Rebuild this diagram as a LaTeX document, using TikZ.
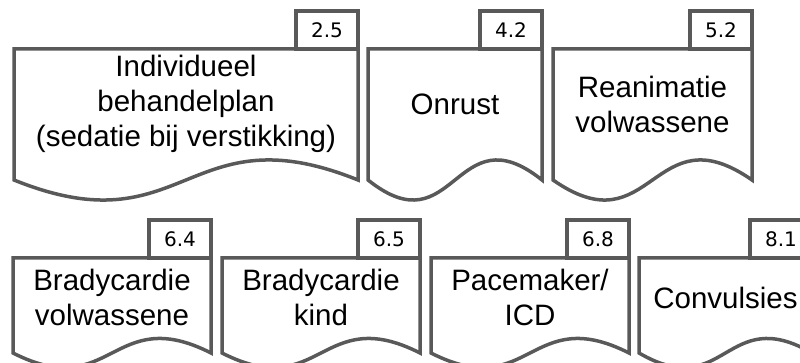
\documentclass[tikz,border=0pt]{standalone}
\usepackage{fontspec}
\setmainfont{Liberation Sans}
\newfontfamily\tabfont{DejaVu Sans}
\usepackage{xcolor}
\usepackage{tikz}
\usetikzlibrary{calc}

\definecolor{edgegray}{HTML}{595959}

% document shape with a number tab: name, x, top, width, height, number, text
\newcommand{\docbox}[7]{%
  \node[docarea, minimum width=#4, minimum height=#5, anchor=north west] (#1) at (#2,#3) {};
  \node[doctext] (#1-txt) at ($(#1.north)!.42!(#1.south)$) {#7};
  \draw[outline] (#1.south west) -- (#1.north west) -- (#1.north east) -- (#1.south east)
    .. controls ($(#1.south)+(0,.53*#5)$) and ($(#1.south)-(0,.53*#5)$) .. (#1.south west) -- cycle;
  \node[tab, anchor=south east] (#1-nr) at (#1.north east) {#6};
}

\begin{document}
\begin{tikzpicture}[
  x=1pt, y=1pt,
  docarea/.style={rectangle, inner sep=0pt, outer sep=0pt},
  doctext/.style={align=center, inner sep=0pt, font=\fontsize{29.5}{35}\selectfont},
  outline/.style={draw=edgegray, line width=3.5pt, line join=miter},
  tab/.style={outline, fill=white, minimum width=62, minimum height=38, inner sep=0pt, outer sep=0pt,
    font=\tabfont\fontsize{20}{24}\selectfont}
]
\useasboundingbox (0,0) rectangle (800,363);
\clip (0,0) rectangle (800,363);

% top row
\docbox{ind}{14}{314}{344}{131}{2.5}{Individueel\\behandelplan\\(sedatie bij verstikking)}
\docbox{onr}{368}{314}{174}{131}{4.2}{Onrust}
\docbox{rea}{553}{314}{199}{131}{5.2}{Reanimatie\\volwassene}

% bottom row
\docbox{bvw}{13}{105}{198}{95}{6.4}{Bradycardie\\volwassene}
\docbox{bkd}{222}{105}{198}{95}{6.5}{Bradycardie\\kind}
\docbox{pmk}{431}{105}{198}{95}{6.8}{Pacemaker/\\ICD}
\docbox{cvs}{639}{105}{173}{95}{8.1}{Convulsies}
\end{tikzpicture}
\end{document}
